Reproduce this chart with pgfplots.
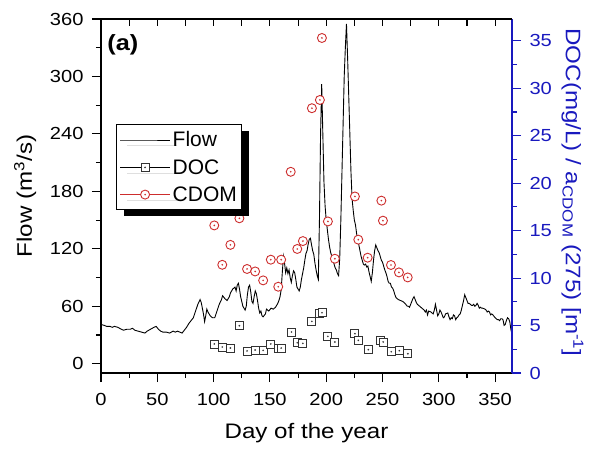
\documentclass[border=0pt]{standalone}
\usepackage{fontspec}
\setmainfont{Liberation Sans}
\newfontfamily\widefont{Liberation Sans}[FakeStretch=1.15]
\usepackage{pgfplots}
\pgfplotsset{compat=1.18}
\usetikzlibrary{shadows}
\definecolor{axblue}{RGB}{25,25,190}
\definecolor{cdomred}{RGB}{205,45,45}
\newcommand\tickfnt{\widefont\fontsize{17.5}{20}\selectfont}
\newcommand\labfnt{\widefont\fontsize{21}{25}\selectfont}

% Origin-like markers with a dot in the middle
\pgfdeclareplotmark{dotcircle}{%
  \pgfpathcircle{\pgfpointorigin}{\pgfplotmarksize}\pgfusepathqfillstroke
  \pgfpathcircle{\pgfpointorigin}{0.3pt}\pgfusepathqstroke}
\pgfdeclareplotmark{dotsquare}{%
  \pgfpathrectangle{\pgfpoint{-\pgfplotmarksize}{-\pgfplotmarksize}}{\pgfpoint{2\pgfplotmarksize}{2\pgfplotmarksize}}\pgfusepathqfillstroke
  \pgfpathcircle{\pgfpointorigin}{0.3pt}\pgfusepathqstroke}

\pgfplotstableread{
day flow
0 41
3 40
5 39
8 39
10 38
12 39
15 38
18 36
20 35
23 36
26 36
28 37
30 35
33 34
36 33
39 32
41 34
44 36
47 38
49 39
51 36
53 34
55 33
58 33
61 32
64 34
66 33
68 34
70 33
72 32
74 35
76 38
78 42
80 45
82 48
84 55
86 62
88 67
89 64
90 58
91 52
92 44
93 50
94 57
95 54
96 52
97 50
99 48
101 48
103 55
105 62
107 67
108 71
110 68
112 66
114 70
115 74
117 78
119 80
120 76
121 82
122 84
123 78
124 70
125 65
126 60
127 58
128 56
129 60
130 72
131 80
132 82
133 75
134 65
135 63
136 70
137 76
138 73
139 66
140 58
141 53
142 55
143 50
144 49
146 52
147 57
149 55
151 58
153 57
155 59
157 63
158 66
159 70
160 77
161 95
162 112
163 105
164 95
165 100
166 94
167 98
168 90
169 85
170 92
171 97
172 95
173 88
174 80
175 78
176 76
177 80
178 88
180 100
181 108
182 115
183 118
184 125
185 130
186 131
187 124
188 118
189 114
190 105
191 98
192 92
193 88
194 150
195 240
196 292
197 240
198 190
199 165
200 150
201 140
202 130
203 122
204 116
205 112
206 108
207 104
208 100
209 98
210 94
211 92
212 110
213 150
214 200
215 250
216 300
217 330
218 355
219 320
220 280
221 240
222 200
223 172
224 160
225 150
226 145
227 136
228 128
229 124
230 118
231 112
232 108
233 104
234 103
235 104
236 101
237 102
238 96
239 91
240 86
241 95
242 108
243 118
244 124
245 121
246 118
247 116
248 112
249 108
250 106
251 102
252 98
253 95
254 91
255 86
256 84
257 84
258 80
259 79
260 76
261 72
262 69
263 68
264 67
266 66
268 65
270 63
272 60
273 60
274 59
275 62
277 68
278 70
279 67
280 64
281 62
283 60
285 58
287 56
288 54
289 56
290 51
291 55
293 54
295 52
296 56
297 62
298 56
299 50
300 52
301 56
302 54
303 51
304 48
305 49
306 52
308 53
309 49
310 46
311 48
312 47
313 51
314 50
315 46
316 48
317 49
318 51
319 52
320 56
322 66
323 72
324 69
325 66
326 63
327 63
328 62
329 61
330 61
331 62
332 60
333 61
334 63
335 61
336 58
337 59
338 58
339 58
341 57
342 56
343 54
344 55
345 54
346 51
347 52
348 51
350 48
351 47
352 46
353 46
354 45
355 47
356 47
357 46
358 40
359 41
360 45
361 48
362 47
363 44
364 36
365 30
}\flowtab

\pgfplotstableread{
day doc
100.6 3.06
107.7 2.74
114.9 2.63
122.9 4.98
129.7 2.32
136.9 2.42
144.0 2.38
150.8 3.06
157.4 2.63
160.0 2.63
169.2 4.32
174.3 3.19
179.3 3.12
187.3 5.44
193.7 6.25
196.3 6.35
201.5 3.86
207.7 3.27
225.5 4.14
228.5 3.44
237.4 2.46
248.0 3.44
250.6 3.27
257.8 2.24
264.9 2.35
272.5 2.03
}\doctab

\pgfplotstableread{
day cdom
100.6 15.55
107.7 11.4
114.9 13.5
122.9 16.3
129.7 10.96
136.9 10.7
144.0 9.76
150.8 11.94
157.4 9.09
160.0 11.94
168.5 21.2
174.3 13.07
179.3 13.9
187.3 27.9
194.4 28.77
196.2 35.3
201.5 15.97
207.7 12.04
225.5 18.6
228.5 14.05
236.8 12.15
249.0 18.16
250.4 16.05
257.5 11.38
264.6 10.6
272.4 10.07
}\cdomtab

\begin{document}
\begin{tikzpicture}
% left axis: flow
\begin{axis}[
  scale only axis, width=411pt, height=354pt,
  xmin=0, xmax=365, ymin=-9.7, ymax=360,
  axis x line*=bottom, axis y line*=left,
  axis line style={-, line width=1.3pt},
  tick align=outside, major tick length=9pt, minor tick length=5pt,
  tick style={black, line width=1.1pt},
  xtick={0,50,...,350}, minor xtick={25,75,...,325},
  ytick={0,60,...,360}, minor ytick={30,90,...,330},
  tick label style={font=\tickfnt},
  xticklabel style={yshift=-8pt},
  yticklabel style={xshift=-5pt},
  /pgf/number format/assume math mode=true,
  xlabel={Day of the year},
  ylabel={Flow (m\textsuperscript{3}/s)},
  label style={font=\labfnt},
  xlabel style={at={(axis description cs:0.5,-0.1864)}, anchor=base},
  ylabel style={at={(axis description cs:-0.168,0.5)}, anchor=base},
]
\addplot[black, line width=0.9pt] table[x=day, y=flow] {\flowtab};
\node[anchor=north west, inner sep=0pt, font=\widefont\fontsize{22}{26}\selectfont\bfseries]
  at (axis description cs:0.0153,0.958) {(a)};
\end{axis}

% right axis: DOC and CDOM
\begin{axis}[
  scale only axis, width=411pt, height=354pt,
  xmin=0, xmax=365, ymin=0, ymax=37.3,
  axis x line=none, axis y line*=right, xtick=\empty,
  y axis line style={-, axblue, line width=1.3pt},
  tick align=outside, major tick length=9pt, minor tick length=5pt,
  tick style={axblue, line width=1.1pt},
  ytick={0,5,...,35}, minor ytick={2.5,7.5,...,32.5},
  yticklabel style={font=\tickfnt, text=axblue, xshift=5pt},
  /pgf/number format/assume math mode=true,
  ylabel={DOC(mg/L) / a\textsubscript{CDOM} (275) [m\textsuperscript{-1}]},
  ylabel style={font=\labfnt, text=axblue, at={(axis description cs:1.131,0.51)}, anchor=base, rotate=180},
  legend style={at={(axis description cs:0.0365,0.703)}, anchor=north west,
    draw=black, line width=1pt, fill=white, font=\fontsize{21}{24}\selectfont,
    inner xsep=3pt, inner ysep=5pt, row sep=7pt, cells={anchor=west},
    drop shadow={shadow xshift=7pt, shadow yshift=-6pt, fill=black, opacity=1, draw=none}},
  legend image code/.code={\draw[mark repeat=2, mark phase=2, #1] plot coordinates {(0pt,0pt) (25pt,0pt) (50pt,0pt)};},
]
\addlegendimage{black, line width=0.9pt}
\addlegendentry{Flow}
\addlegendimage{black, line width=1.2pt, mark=dotsquare, mark size=4pt, mark options={fill=white, draw=black!80, line width=0.9pt}}
\addlegendentry{DOC}
\addlegendimage{cdomred, line width=0.7pt, mark=dotcircle, mark size=4.5pt, mark options={fill=white, line width=0.9pt}}
\addlegendentry{CDOM}
\addplot[only marks, forget plot, mark=dotsquare, mark size=4pt, mark options={fill=white, draw=black!80, line width=0.9pt}]
  table[x=day, y=doc] {\doctab};
\addplot[only marks, forget plot, mark=dotcircle, mark size=4.5pt, mark options={fill=white, draw=cdomred, line width=0.9pt}]
  table[x=day, y=cdom] {\cdomtab};
\end{axis}

% top axis: inward ticks, no labels
\begin{axis}[
  scale only axis, width=411pt, height=354pt,
  xmin=0, xmax=365, ymin=0, ymax=1,
  axis x line*=top, axis y line=none, ytick=\empty,
  axis line style={-, line width=1.3pt},
  tick align=inside, major tick length=7pt,
  tick style={black, line width=1.1pt},
  xtick={25,50,...,350}, xticklabels={},
]
\addplot[draw=none] coordinates {(0,0)};
\end{axis}
\pgfresetboundingbox
\useasboundingbox (-101pt,-77pt) rectangle (494pt,373pt);
\end{tikzpicture}
\end{document}
